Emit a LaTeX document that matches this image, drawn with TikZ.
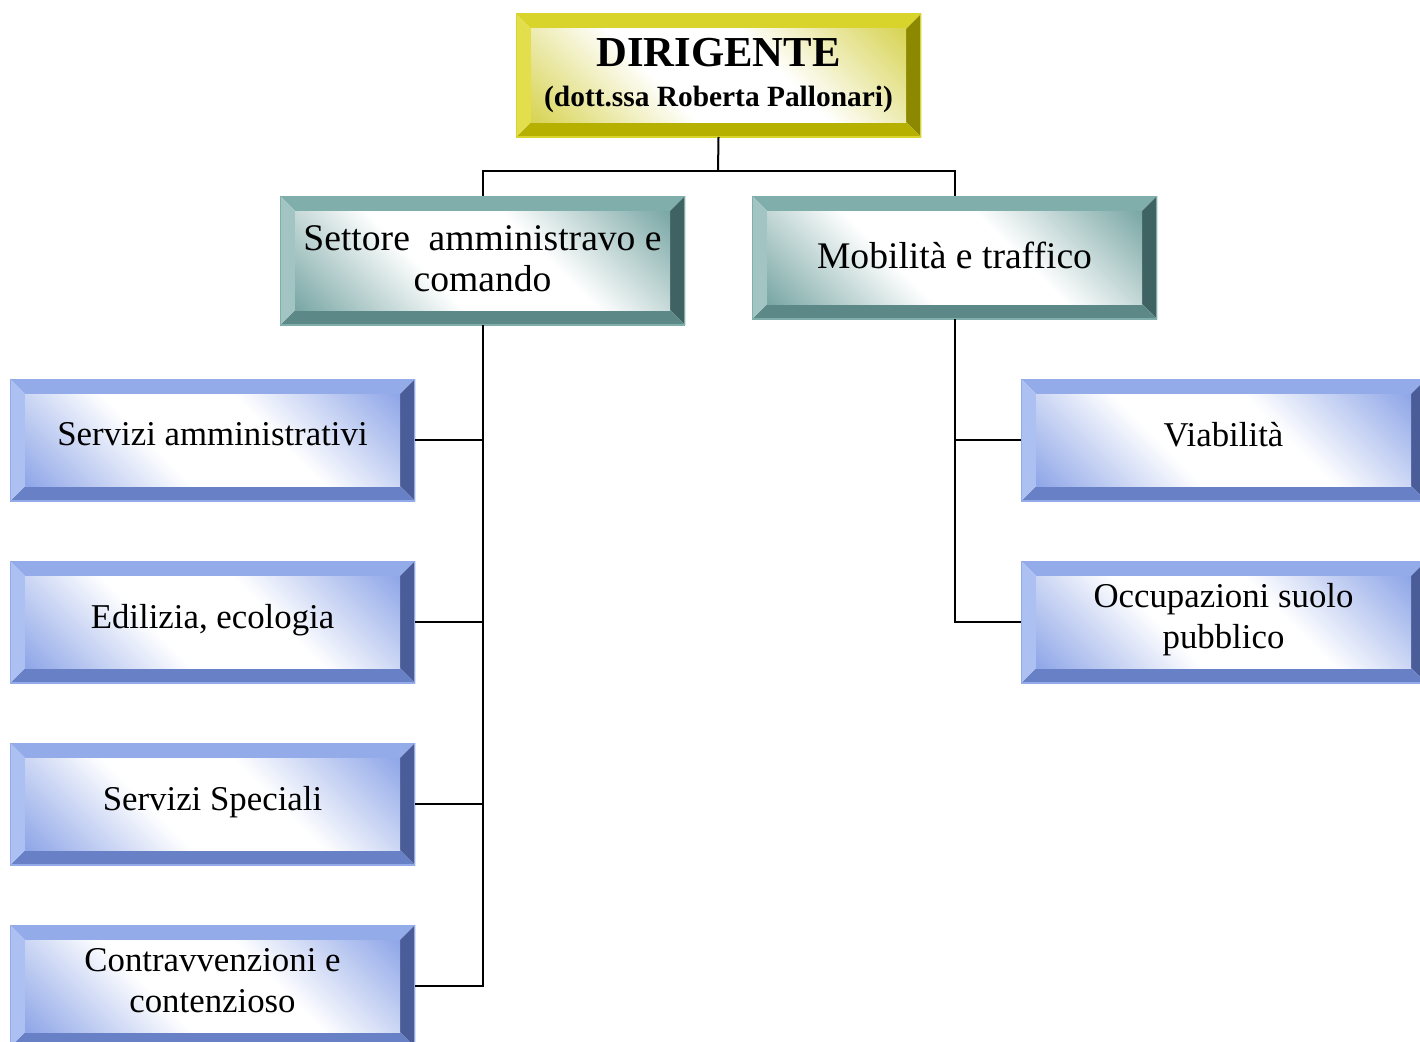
\documentclass[tikz,border=0pt]{standalone}
\usepackage{fontspec}
\setmainfont{Liberation Serif}

% palettes: T = top bevel, L = left bevel, R = right bevel, B = bottom bevel, F = face tint
\definecolor{goldT}{HTML}{D8D42C}
\definecolor{goldL}{HTML}{E2DE4C}
\definecolor{goldR}{HTML}{8C8800}
\definecolor{goldB}{HTML}{B6B100}
\definecolor{goldF}{HTML}{D8D456}
\definecolor{tealT}{HTML}{80AEAB}
\definecolor{tealL}{HTML}{A2C4C2}
\definecolor{tealR}{HTML}{3F6362}
\definecolor{tealB}{HTML}{5C8987}
\definecolor{tealF}{HTML}{7BA8A6}
\definecolor{blueT}{HTML}{94ABEA}
\definecolor{blueL}{HTML}{ADC0F2}
\definecolor{blueR}{HTML}{4B5D98}
\definecolor{blueB}{HTML}{6880C6}
\definecolor{blueF}{HTML}{90A7E8}

\pgfdeclarehorizontalshading{goldshade}{100bp}{color(0bp)=(goldF); color(15bp)=(goldF); color(40bp)=(white); color(60bp)=(white); color(85bp)=(goldF); color(100bp)=(goldF)}
\pgfdeclarehorizontalshading{tealshade}{100bp}{color(0bp)=(tealF); color(15bp)=(tealF); color(40bp)=(white); color(60bp)=(white); color(85bp)=(tealF); color(100bp)=(tealF)}
\pgfdeclarehorizontalshading{blueshade}{100bp}{color(0bp)=(blueF); color(15bp)=(blueF); color(40bp)=(white); color(60bp)=(white); color(85bp)=(blueF); color(100bp)=(blueF)}

% extra depth below the last line, lifting the text a little inside its box
\newcommand\lift{\rule[-12pt]{0pt}{12pt}}
\newcommand\liftsmall{\rule[-4pt]{0pt}{4pt}}

\tikzset{
  bevel/.style={
    inner sep=0pt, outer sep=0pt, align=center, anchor=north west,
    minimum width=405pt, minimum height=123pt,
    font=\fontsize{34.8}{41}\selectfont,
    path picture={
      \path (path picture bounding box.north west) coordinate (pa)
            (path picture bounding box.north east) coordinate (pb)
            (path picture bounding box.south east) coordinate (pc)
            (path picture bounding box.south west) coordinate (pd);
      \path ([shift={(15pt,-15pt)}]pa) coordinate (qa)
            ([shift={(-15pt,-15pt)}]pb) coordinate (qb)
            ([shift={(-15pt,15pt)}]pc) coordinate (qc)
            ([shift={(15pt,15pt)}]pd) coordinate (qd);
      \fill[#1T] (pa) -- (pb) -- (qb) -- (qa) -- cycle;
      \fill[#1R] (pb) -- (pc) -- (qc) -- (qb) -- cycle;
      \fill[#1B] (pc) -- (pd) -- (qd) -- (qc) -- cycle;
      \fill[#1L] (pd) -- (pa) -- (qa) -- (qd) -- cycle;
      \shade[shading=#1shade, shading angle=45] (qa) rectangle (qc);
      \draw[#1T, line width=2pt] (pa) rectangle (pc);
    }
  },
  sector/.style={bevel=teal, font=\fontsize{37.6}{41}\selectfont},
  office/.style={bevel=blue, minimum height=122pt},
  link/.style={line width=2pt, black}
}

\begin{document}
\begin{tikzpicture}[x=1pt, y=-1pt]
  \useasboundingbox (0,0) rectangle (1420,1041);
  \fill[white] (0,0) rectangle (1420,1041);
  \clip (0,0) rectangle (1420,1041);

  % top level
  \node[bevel=gold] (dir) at (516,14)
    {\fontsize{42.7}{36}\selectfont\bfseries DIRIGENTE\\[-1pt]
     \fontsize{29.4}{34}\selectfont\bfseries (dott.ssa Roberta Pallonari)};

  % sectors
  \node[sector, minimum height=129pt] (set) at (280,196)
    {Settore\ \ amministravo e\\comando\liftsmall};
  \node[sector] (mob) at (752,196) {Mobilità e traffico\liftsmall};

  % offices of the administrative sector
  \node[office] (c1) at (10,379) {Servizi amministrativi\lift};
  \node[office] (c2) at (10,561) {Edilizia, ecologia\lift};
  \node[office] (c3) at (10,743) {Servizi Speciali\lift};
  \node[office] (c4) at (10,925) {Contravvenzioni e\\contenzioso\lift};

  % offices of mobility and traffic
  \node[office] (r1) at (1021,379) {Viabilità\lift};
  \node[office] (r2) at (1021,561) {Occupazioni suolo\\pubblico\lift};

  % connectors
  \coordinate (bus) at (718,171);
  \draw[link] (dir.south) -- (bus);
  \draw[link] (set.north) |- (bus) -| (mob.north);
  \draw[link] (c1.east) -| (set.south);
  \draw[link] (c2.east) -| (set.south);
  \draw[link] (c3.east) -| (set.south);
  \draw[link] (c4.east) -| (set.south);
  \draw[link] (r1.west) -| (mob.south);
  \draw[link] (r2.west) -| (mob.south);
\end{tikzpicture}
\end{document}
